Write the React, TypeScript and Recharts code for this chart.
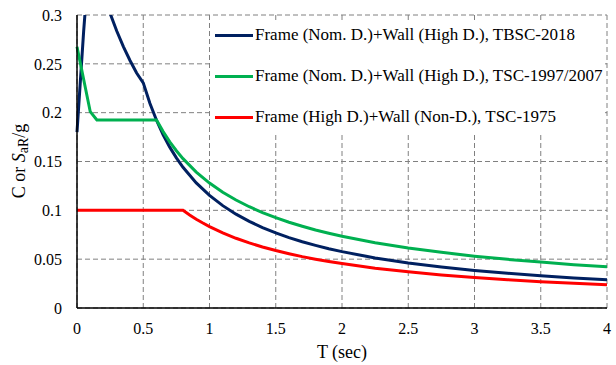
import { LineChart, Line, XAxis, YAxis, CartesianGrid, Legend } from "recharts";

// TBSC-2018, Frame (Nom. D.)+Wall (High D.)
const tbscT = [0, 0.05, 0.1, 0.15, 0.2, 0.25, 0.3, 0.35, 0.4, 0.45, 0.5, 0.55, 0.6, 0.65, 0.7, 0.75, 0.8, 0.9, 1.0, 1.1, 1.2, 1.3, 1.4, 1.5, 1.6, 1.7, 1.8, 1.9, 2.0, 2.25, 2.5, 2.75, 3.0, 3.25, 3.5, 3.75, 4.0];
const tbscC = [0.18, 0.283, 0.372, 0.345, 0.322, 0.3016, 0.2836, 0.2677, 0.2534, 0.2406, 0.2305, 0.2096, 0.1922, 0.1774, 0.1647, 0.1537, 0.1441, 0.1281, 0.1153, 0.1048, 0.0961, 0.0887, 0.0824, 0.0769, 0.0721, 0.0678, 0.0641, 0.0607, 0.0577, 0.0513, 0.0461, 0.0419, 0.0384, 0.0355, 0.033, 0.0308, 0.0289];

// TSC-1997/2007
const tscT = [0, 0.1, 0.15, 0.6, 0.65, 0.7, 0.75, 0.8, 0.9, 1.0, 1.1, 1.2, 1.3, 1.4, 1.5, 1.6, 1.7, 1.8, 1.9, 2.0, 2.25, 2.5, 2.75, 3.0, 3.25, 3.5, 3.75, 4.0];
const tscC = [0.2675, 0.201, 0.1925, 0.1925, 0.1806, 0.1702, 0.161, 0.1529, 0.1392, 0.1279, 0.1185, 0.1106, 0.1037, 0.0977, 0.0925, 0.0878, 0.0837, 0.0799, 0.0766, 0.0735, 0.0669, 0.0615, 0.057, 0.0531, 0.0498, 0.047, 0.0444, 0.0422];

// TSC-1975, Frame (High D.)+Wall (Non-D.)
const tsc75T = [0, 0.8, 0.85, 0.9, 0.95, 1.0, 1.1, 1.2, 1.3, 1.4, 1.5, 1.6, 1.7, 1.8, 1.9, 2.0, 2.25, 2.5, 2.75, 3.0, 3.25, 3.5, 3.75, 4.0];
const tsc75C = [0.1, 0.1, 0.0952, 0.0909, 0.087, 0.0833, 0.0769, 0.0714, 0.0667, 0.0625, 0.0588, 0.0556, 0.0526, 0.05, 0.0476, 0.0455, 0.0408, 0.037, 0.0339, 0.0313, 0.029, 0.027, 0.0253, 0.0238];

const xTicks = [0, 0.5, 1, 1.5, 2, 2.5, 3, 3.5, 4];
const yTicks = [0, 0.05, 0.1, 0.15, 0.2, 0.25, 0.3];

const seriesNames = [
  "Frame (Nom. D.)+Wall (High D.), TBSC-2018",
  "Frame (Nom. D.)+Wall (High D.), TSC-1997/2007",
  "Frame (High D.)+Wall (Non-D.), TSC-1975",
];
const colors = ["#002060", "#00B050", "#FF0000"];

const toRows = (ts: number[], vs: number[]) => ts.map((t, i) => ({ t, v: vs[i] }));

const FONT = '"Liberation Serif", "Times New Roman", serif';

const YTitle = () => (
  <text
    x={19}
    y={161}
    transform="rotate(-90, 19, 161)"
    textAnchor="middle"
    dominantBaseline="central"
    fontFamily={FONT}
    fontSize={18}
    fill="#000"
  >
    C or <tspan fontStyle="italic">S</tspan>
    <tspan fontSize={14} dy={4}>aR</tspan>
    <tspan dy={-4}>/g</tspan>
  </text>
);

const LegendBox = () => (
  <div style={{ position: "relative", width: 392, height: 115 }}>
    {seriesNames.map((name, i) => (
      <div
        key={name}
        style={{
          position: "absolute",
          left: 3,
          top: 15 + i * 41 - 10,
          height: 20,
          display: "flex",
          alignItems: "center",
          whiteSpace: "nowrap",
        }}
      >
        <span style={{ display: "inline-block", width: 38, height: 3, background: colors[i] }} />
        <span style={{ marginLeft: 2, fontSize: 17, fontFamily: FONT, color: "#000" }}>{name}</span>
      </div>
    ))}
  </div>
);

export default function App() {
  const sets = [toRows(tbscT, tbscC), toRows(tscT, tscC), toRows(tsc75T, tsc75C)];
  return (
    <div style={{ position: "absolute", left: 0, top: 0, width: 616, height: 365, background: "#fff" }}>
      <LineChart width={616} height={365} margin={{ top: 15, right: 9, bottom: 0, left: 0 }}>
        <CartesianGrid stroke="#808080" strokeDasharray="5 3" strokeWidth={1} />
        <XAxis
          type="number"
          dataKey="t"
          domain={[0, 4]}
          ticks={xTicks}
          allowDuplicatedCategory={false}
          height={57}
          tickSize={0}
          tickMargin={15}
          axisLine={{ stroke: "#000", strokeWidth: 1.5 }}
          tick={{ fill: "#000", fontSize: 16, fontFamily: FONT }}
          label={{ value: "T (sec)", position: "insideBottom", offset: 7, fill: "#000", fontSize: 18, fontFamily: FONT }}
        />
        <YAxis
          type="number"
          domain={[0, 0.3]}
          ticks={yTicks}
          allowDataOverflow
          width={77}
          tickSize={0}
          tickMargin={15}
          axisLine={{ stroke: "#000", strokeWidth: 1.5 }}
          tick={{ fill: "#000", fontSize: 16, fontFamily: FONT }}
          label={{ content: () => <YTitle /> }}
        />
        {sets.map((data, i) => (
          <Line
            key={seriesNames[i]}
            data={data}
            dataKey="v"
            name={seriesNames[i]}
            type="linear"
            stroke={colors[i]}
            strokeWidth={3}
            dot={false}
            isAnimationActive={false}
          />
        ))}
        <Legend
          layout="vertical"
          align="center"
          verticalAlign="middle"
          content={() => <LegendBox />}
          wrapperStyle={{ position: "absolute", left: 212, top: 20, width: 392, height: 115, backgroundColor: "#fff" }}
        />
      </LineChart>
    </div>
  );
}
